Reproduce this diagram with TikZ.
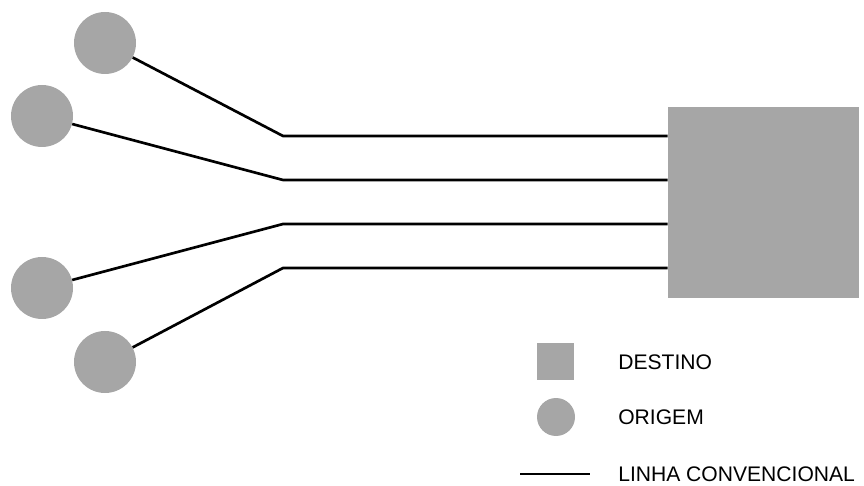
\documentclass[tikz,border=0pt]{standalone}
\usepackage{fontspec}
\setmainfont{Liberation Sans}
\usepackage{tikz}
\tikzset{
  origem/.style={circle, fill=black!35, minimum size=1.55cm, inner sep=0pt},
  destino/.style={rectangle, fill=black!35, minimum size=4.775cm, inner sep=0pt},
  linha/.style={line width=1.9pt, draw=black, line join=miter},
  legendtext/.style={font=\fontsize{15pt}{18pt}\selectfont, anchor=west, inner sep=0pt},
}

\begin{document}
\begin{tikzpicture}
\useasboundingbox (0,0) rectangle (21.6,12.125);
% destination block and the four sources
\node[destino] (dest) at (19.0875,7.0625) {};
\node[origem] (o1) at (2.625,11.050) {};
\node[origem] (o2) at (1.050,9.225) {};
\node[origem] (o3) at (1.050,4.925) {};
\node[origem] (o4) at (2.625,3.075) {};
% bend points where the lines turn horizontal
\coordinate (b1) at (7.075,8.725);
\coordinate (b2) at (7.075,7.625);
\coordinate (b3) at (7.075,6.525);
\coordinate (b4) at (7.075,5.425);
\draw[linha] (o1) -- (b1) -- (dest.west |- b1);
\draw[linha] (o2) -- (b2) -- (dest.west |- b2);
\draw[linha] (o3) -- (b3) -- (dest.west |- b3);
\draw[linha] (o4) -- (b4) -- (dest.west |- b4);
% legend
\node[destino, minimum size=0.925cm] (legdest) at (13.890,3.075) {};
\node[legendtext] (txtdest) at (15.45,3.075) {DESTINO};
\node[origem, minimum size=0.95cm] (legorig) at (13.900,1.700) {};
\node[legendtext] (txtorig) at (15.45,1.700) {ORIGEM};
\coordinate (lega) at (13.00,0.275);
\coordinate (legb) at (14.75,0.275);
\draw[linha] (lega) -- (legb);
\node[legendtext] (txtlinha) at (15.45,0.275) {LINHA CONVENCIONAL};
\end{tikzpicture}
\end{document}
